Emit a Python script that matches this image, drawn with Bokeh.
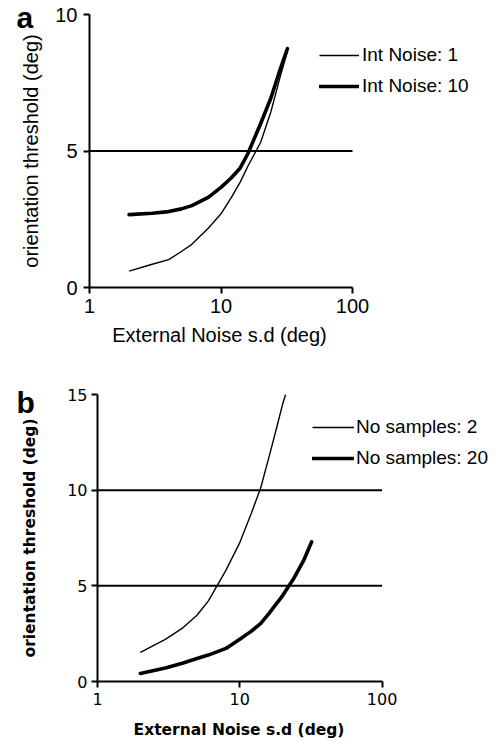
import math
from bokeh.plotting import figure
from bokeh.models import Range1d, FixedTicker, Legend, LegendItem, Label
from bokeh.embed import file_html
from bokeh.resources import INLINE

# ---- data ----
ext_noise_a = [2, 3, 4, 5, 6, 8, 10, 12, 14, 16, 20, 24, 28, 32]
int_noise_1 = [0.60, 0.85, 1.02, 1.32, 1.58, 2.17, 2.70, 3.30, 3.86, 4.44, 5.31, 6.45, 7.67, 8.65]
int_noise_10 = [2.67, 2.72, 2.78, 2.88, 3.00, 3.30, 3.67, 4.02, 4.38, 4.90, 6.00, 6.95, 7.95, 8.75]

ext_noise_b2 = [2, 3, 4, 5, 6, 7, 8, 10, 12, 14, 16, 18, 20, 21]
samples_2 = [1.52, 2.20, 2.82, 3.46, 4.20, 5.06, 5.82, 7.26, 8.76, 10.10, 11.70, 13.16, 14.50, 15.0]
ext_noise_b20 = [2, 3, 4, 5, 6, 8, 10, 12, 14, 16, 20, 24, 28, 32]
samples_20 = [0.42, 0.71, 0.97, 1.20, 1.38, 1.73, 2.21, 2.62, 3.03, 3.55, 4.49, 5.40, 6.30, 7.30]

x_ticks = [1, 10, 100]
y_ticks_a = [0, 5, 10]
y_ticks_b = [0, 5, 10, 15]
grid_a = [5]
grid_b = [5, 10]

x_title = "External Noise s.d (deg)"
y_title = "orientation threshold (deg)"

W = 504


def make_panel(height, left, top, bottom, axis_right, yticks, grid,
               font, tick_size, label_size, label_style):
    # frame extends to the right edge so the legend (inside it) is not clipped;
    # the x axis itself is bounded to 1..100
    frame_right = W - 4
    decade = (axis_right - left) / (math.log10(x_ticks[-1]) - math.log10(x_ticks[0]))
    x_end = x_ticks[0] * 10 ** ((frame_right - left) / decade)
    p = figure(width=W, height=height, x_axis_type="log",
               x_range=Range1d(x_ticks[0], x_end),
               y_range=Range1d(yticks[0], yticks[-1]),
               output_backend="svg", toolbar_location=None,
               min_border_left=left, min_border_right=W - frame_right,
               min_border_top=top, min_border_bottom=bottom)
    p.xaxis.ticker = FixedTicker(ticks=x_ticks)
    p.xaxis.bounds = (x_ticks[0], x_ticks[-1])
    p.xaxis.major_label_overrides = {t: str(t) for t in x_ticks}
    p.yaxis.ticker = FixedTicker(ticks=yticks)
    p.xgrid.visible = False
    p.ygrid.visible = False
    for ax in (p.xaxis[0], p.yaxis[0]):
        ax.axis_line_color = "black"
        ax.axis_line_width = 2
        ax.major_tick_line_color = "black"
        ax.major_tick_line_width = 2
        ax.major_tick_in = 0
        ax.major_tick_out = 6
        ax.minor_tick_line_color = None
        ax.major_label_text_font = font
        ax.major_label_text_font_size = tick_size
        ax.major_label_text_color = "black"
        ax.axis_label_text_font = font
        ax.axis_label_text_font_size = label_size
        ax.axis_label_text_font_style = label_style
        ax.axis_label_text_color = "black"
    p.outline_line_color = None
    p.background_fill_color = "white"
    p.border_fill_color = "white"
    # horizontal reference lines spanning the bounded x axis
    p.segment(x0=[x_ticks[0]] * len(grid), x1=[x_ticks[-1]] * len(grid),
              y0=grid, y1=grid, line_color="black", line_width=2)
    p.yaxis.axis_label = y_title
    return p


def side_label(p, text, x, y, place, font, size, style, align="left"):
    p.add_layout(Label(x=x, y=y, x_units="canvas", y_units="canvas", text=text,
                       text_font=font, text_font_size=size,
                       text_font_style=style, text_color="black",
                       text_align=align, text_baseline="middle"), place)


# ---- panel a ----
fa = make_panel(350, 89, 14, 63, 352, y_ticks_a, grid_a,
                "Liberation Sans", "20px", "20px", "normal")
fa.xaxis.major_label_standoff = 5
fa.yaxis.major_label_standoff = 6
fa.yaxis.axis_label_standoff = 10

ra1 = fa.line(ext_noise_a, int_noise_1, line_color="black", line_width=1.4)
ra10 = fa.line(ext_noise_a, int_noise_10, line_color="black", line_width=3.6,
               line_join="round", line_cap="round")
leg_a = Legend(items=[LegendItem(label="Int Noise: 1", renderers=[ra1]),
                      LegendItem(label="Int Noise: 10", renderers=[ra10])],
               location=(230, 190), padding=0, margin=0, spacing=9,
               glyph_width=40, glyph_height=22, label_height=22,
               label_standoff=3, border_line_color=None,
               background_fill_alpha=0,
               label_text_font="Liberation Sans", label_text_font_size="19px",
               label_text_color="black")
fa.add_layout(leg_a)
side_label(fa, "a", 16, 16.6, "left", "Liberation Sans", "30px", "bold")
side_label(fa, x_title, 219, 334.5, "below", "Liberation Sans", "20px", "normal",
           align="center")

# ---- panel b ----
fb = make_panel(392, 95, 44, 61, 381, y_ticks_b, grid_b,
                "DejaVu Sans", "16px", "15.5px", "bold")
fb.xaxis.major_label_standoff = 5
fb.yaxis.major_label_standoff = 4
fb.yaxis.axis_label_standoff = 25

rb2 = fb.line(ext_noise_b2, samples_2, line_color="black", line_width=1.4)
rb20 = fb.line(ext_noise_b20, samples_20, line_color="black", line_width=3.6,
               line_join="round", line_cap="round")
leg_b = Legend(items=[LegendItem(label="No samples: 2", renderers=[rb2]),
                      LegendItem(label="No samples: 20", renderers=[rb20])],
               location=(215, 212), padding=0, margin=0, spacing=9,
               glyph_width=42, glyph_height=22, label_height=22,
               label_standoff=2, border_line_color=None,
               background_fill_alpha=0,
               label_text_font="Liberation Sans", label_text_font_size="19px",
               label_text_color="black")
fb.add_layout(leg_b)
side_label(fb, "b", 16, 51.6, "left", "Liberation Sans", "30px", "bold")
side_label(fb, x_title, 238.5, 379.6, "below", "DejaVu Sans", "15.5px", "bold",
           align="center")

open("out.html", "w").write(file_html([fa, fb], INLINE))
